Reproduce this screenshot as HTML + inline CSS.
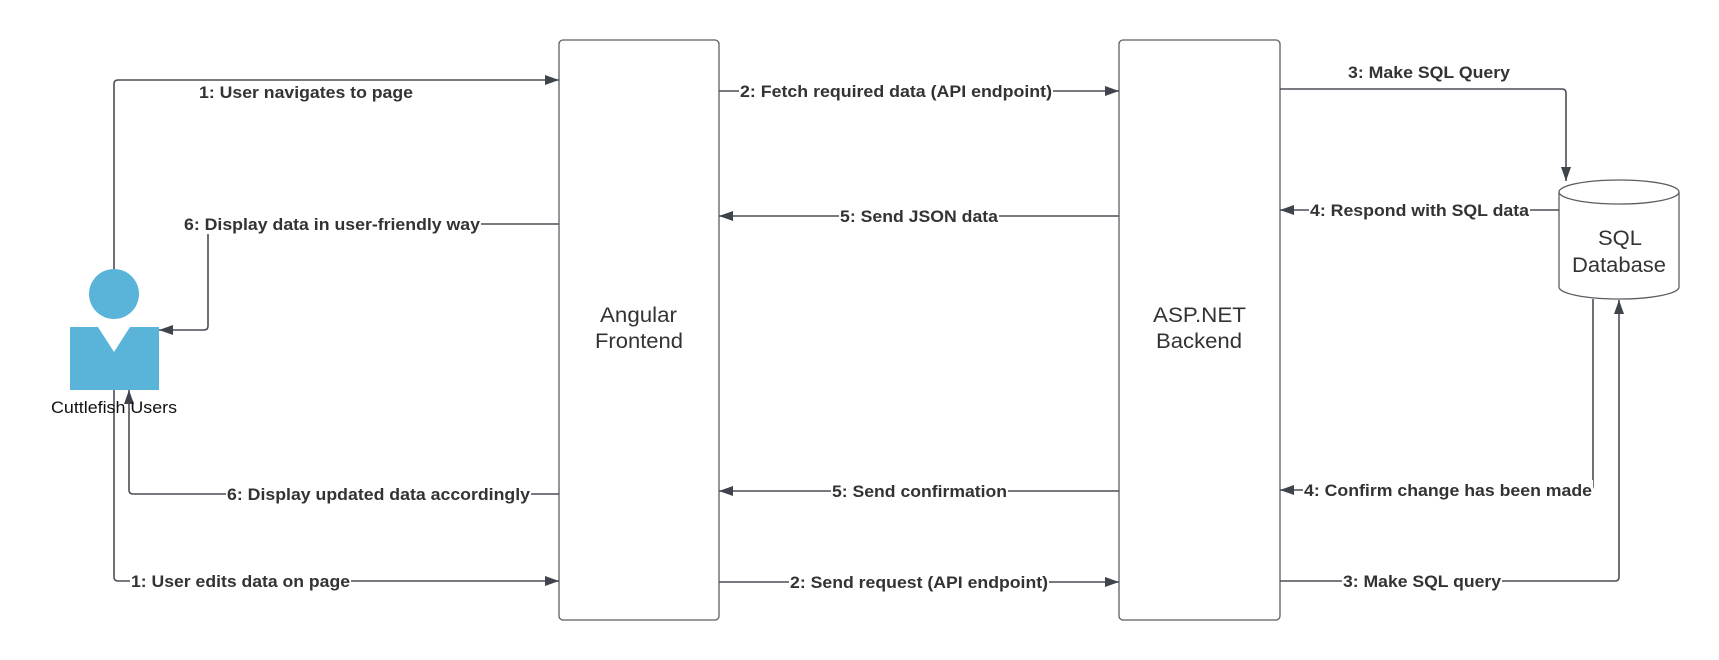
<!DOCTYPE html>
<html><head><meta charset="utf-8"><style>
html,body{margin:0;padding:0;background:#fff;}
svg{display:block;}
.l{fill:none;stroke:#4a4e57;stroke-width:1.6;}
.t{font-family:"Liberation Sans",sans-serif;font-weight:bold;font-size:17px;fill:#333;}
.n{font-family:"Liberation Sans",sans-serif;font-size:21px;fill:#333;}
</style></head><body>
<svg width="1719" height="660" viewBox="0 0 1719 660" xmlns="http://www.w3.org/2000/svg">
<defs>
<marker id="a" viewBox="0 0 14 10" refX="14" refY="5" markerWidth="14" markerHeight="10" markerUnits="userSpaceOnUse" orient="auto">
<path d="M0,0 L14,5 L0,10 z" fill="#3f434b"/></marker>
</defs>
<rect x="559" y="40" width="160" height="580" rx="4" fill="#fff" stroke="#5a5d63" stroke-width="1.3"/>
<rect x="1119" y="40" width="161" height="580" rx="4" fill="#fff" stroke="#5a5d63" stroke-width="1.3"/>
<text class="n" x="600" y="322" textLength="77" lengthAdjust="spacingAndGlyphs">Angular</text>
<text class="n" x="595" y="348" textLength="88" lengthAdjust="spacingAndGlyphs">Frontend</text>
<text class="n" x="1153" y="322" textLength="93" lengthAdjust="spacingAndGlyphs">ASP.NET</text>
<text class="n" x="1156" y="348" textLength="86" lengthAdjust="spacingAndGlyphs">Backend</text>
<path d="M1559,192 L1559,287 A60,12 0 0 0 1679,287 L1679,192" fill="#fff" stroke="#5a5d63" stroke-width="1.3"/>
<ellipse cx="1619" cy="192" rx="60" ry="12" fill="#fff" stroke="#5a5d63" stroke-width="1.3"/>
<text class="n" x="1598" y="245" textLength="44" lengthAdjust="spacingAndGlyphs">SQL</text>
<text class="n" x="1572" y="272" textLength="94" lengthAdjust="spacingAndGlyphs">Database</text>
<circle cx="114" cy="294" r="25" fill="#5ab4da"/>
<path d="M70,327 L98,327 L114,352 L130,327 L159,327 L159,390 L70,390 z" fill="#5ab4da"/>
<path class="l" d="M114,269 L114,84 Q114,80 118,80 L559,80" marker-end="url(#a)"/>
<path class="l" d="M559,224 L208,224 L208,326 Q208,330 204,330 L159,330" marker-end="url(#a)"/>
<path class="l" d="M559,494 L133,494 Q129,494 129,490 L129,390" marker-end="url(#a)"/>
<path class="l" d="M114,390 L114,577 Q114,581 118,581 L559,581" marker-end="url(#a)"/>
<text class="n" x="51" y="413" textLength="126" lengthAdjust="spacingAndGlyphs" style="font-size:17px;fill:#111">Cuttlefish Users</text>
<path class="l" d="M719,91 L1119,91" marker-end="url(#a)"/>
<path class="l" d="M1119,216 L719,216" marker-end="url(#a)"/>
<path class="l" d="M1119,491 L719,491" marker-end="url(#a)"/>
<path class="l" d="M719,582 L1119,582" marker-end="url(#a)"/>
<path class="l" d="M1280,89 L1562,89 Q1566,89 1566,93 L1566,181" marker-end="url(#a)"/>
<path class="l" d="M1559,210 L1280,210" marker-end="url(#a)"/>
<path class="l" d="M1593,299 L1593,486 Q1593,490 1589,490 L1280,490" marker-end="url(#a)"/>
<path class="l" d="M1280,581 L1615,581 Q1619,581 1619,577 L1619,300" marker-end="url(#a)"/>
<g class="t">
<rect x="197" y="82" width="218" height="20" fill="#fff"/><text x="199" y="98" textLength="214" lengthAdjust="spacingAndGlyphs">1: User navigates to page</text>
<rect x="183" y="214" width="298" height="20" fill="#fff"/><text x="184" y="230" textLength="296" lengthAdjust="spacingAndGlyphs">6: Display data in user-friendly way</text>
<rect x="226" y="484" width="305" height="20" fill="#fff"/><text x="227" y="500" textLength="303" lengthAdjust="spacingAndGlyphs">6: Display updated data accordingly</text>
<rect x="130" y="571" width="221" height="20" fill="#fff"/><text x="131" y="587" textLength="219" lengthAdjust="spacingAndGlyphs">1: User edits data on page</text>
<rect x="739" y="81" width="314" height="20" fill="#fff"/><text x="740" y="97" textLength="312" lengthAdjust="spacingAndGlyphs">2: Fetch required data (API endpoint)</text>
<rect x="839" y="206" width="160" height="20" fill="#fff"/><text x="840" y="222" textLength="158" lengthAdjust="spacingAndGlyphs">5: Send JSON data</text>
<rect x="831" y="481" width="177" height="20" fill="#fff"/><text x="832" y="497" textLength="175" lengthAdjust="spacingAndGlyphs">5: Send confirmation</text>
<rect x="789" y="572" width="260" height="20" fill="#fff"/><text x="790" y="588" textLength="258" lengthAdjust="spacingAndGlyphs">2: Send request (API endpoint)</text>
<text x="1348" y="78" textLength="162" lengthAdjust="spacingAndGlyphs">3: Make SQL Query</text>
<rect x="1309" y="200" width="221" height="20" fill="#fff"/><text x="1310" y="216" textLength="219" lengthAdjust="spacingAndGlyphs">4: Respond with SQL data</text>
<rect x="1303" y="480" width="290" height="20" fill="#fff"/><text x="1304" y="496" textLength="288" lengthAdjust="spacingAndGlyphs">4: Confirm change has been made</text>
<rect x="1342" y="571" width="160" height="20" fill="#fff"/><text x="1343" y="587" textLength="158" lengthAdjust="spacingAndGlyphs">3: Make SQL query</text>
</g>
</svg>
</body></html>
